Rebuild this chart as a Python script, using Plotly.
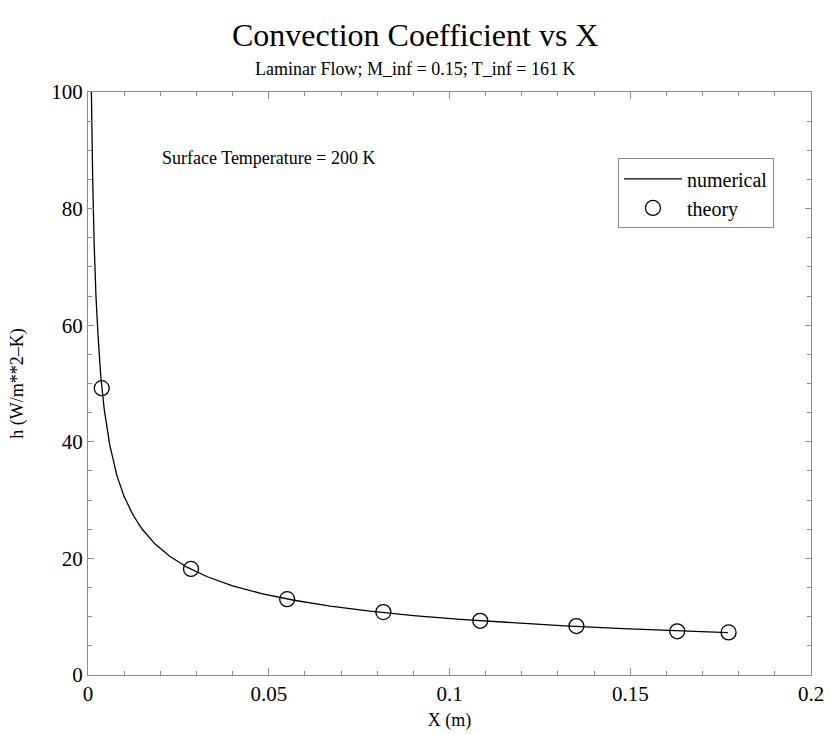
import plotly.graph_objects as go

# Numerical solution: convection coefficient along the plate
x_numerical = [0.0008, 0.001, 0.0013, 0.0017, 0.0022, 0.0028, 0.0035, 0.0045,
               0.006, 0.008, 0.01, 0.0125, 0.015, 0.0185, 0.0225, 0.0275,
               0.033, 0.04, 0.048, 0.057, 0.067, 0.078, 0.09, 0.103, 0.117,
               0.132, 0.148, 0.163, 0.177]
h_numerical = [106.0, 96.5, 85.0, 74.0, 65.0, 58.0, 51.5, 45.5,
               39.5, 34.2, 30.6, 27.4, 25.0, 22.5, 20.4, 18.45,
               16.85, 15.3, 13.97, 12.82, 11.82, 10.96, 10.2, 9.53, 8.95,
               8.42, 7.95, 7.58, 7.27]

# Laminar flat-plate theory
x_theory = [0.0038, 0.0285, 0.0551, 0.0817, 0.1085, 0.1351, 0.163, 0.1772]
h_theory = [49.2, 18.2, 13.0, 10.8, 9.3, 8.4, 7.5, 7.3]

title_text = "Convection Coefficient vs X"
subtitle_text = "Laminar Flow; M_inf = 0.15; T_inf = 161 K"
note_text = "Surface Temperature = 200 K"

FONT = "Liberation Serif, Times New Roman, serif"
AXIS_GREY = "#8c8c8c"

fig = go.Figure()
fig.add_trace(go.Scatter(
    x=x_numerical, y=h_numerical, mode="lines", name="numerical",
    line=dict(color="black", width=1.3),
))
fig.add_trace(go.Scatter(
    x=x_theory, y=h_theory, mode="markers", name="theory",
    marker=dict(symbol="circle-open", size=15, color="black",
                line=dict(color="black", width=1.3)),
))

axis_common = dict(
    showline=True, linecolor=AXIS_GREY, linewidth=1.3, mirror="ticks",
    ticks="inside", tickcolor=AXIS_GREY, tickwidth=1,
    showgrid=False, zeroline=False, automargin=False,
    tickfont=dict(family=FONT, size=21, color="black"),
)

fig.update_xaxes(
    range=[0, 0.2], tickvals=[0, 0.05, 0.1, 0.15, 0.2],
    ticktext=["0", "0.05", "0.1", "0.15", "0.2"], ticklen=7,
    minor=dict(dtick=0.01, ticks="inside", ticklen=4, tickcolor=AXIS_GREY),
    title=dict(text="X (m)", font=dict(family=FONT, size=18, color="black"),
               standoff=8),
    **axis_common,
)
fig.update_yaxes(
    range=[0, 100], dtick=20, ticklen=6,
    minor=dict(dtick=5, ticks="inside", ticklen=4, tickcolor=AXIS_GREY),
    title=dict(text="h (W/m**2\u2013K)", font=dict(family=FONT, size=18, color="black"),
               standoff=22),
    **axis_common,
)

fig.add_annotation(x=0.452, y=1.097, xref="paper", yref="paper",
                   yanchor="middle", text=title_text, showarrow=False,
                   font=dict(family=FONT, size=32, color="black"))
fig.add_annotation(x=0.452, y=1.039, xref="paper", yref="paper",
                   yanchor="middle", text=subtitle_text, showarrow=False,
                   font=dict(family=FONT, size=18, color="black"))
fig.add_annotation(x=0.0199, y=88.6, xref="x", yref="y", xanchor="left",
                   yanchor="middle", text=note_text, showarrow=False,
                   font=dict(family=FONT, size=18, color="black"))

fig.update_layout(
    width=830, height=734,
    margin=dict(l=88, r=19, t=92, b=59),
    paper_bgcolor="white", plot_bgcolor="white",
    font=dict(family=FONT, color="black"),
    legend=dict(x=0.733, y=0.886, xanchor="left", yanchor="top",
                bordercolor=AXIS_GREY, borderwidth=1, bgcolor="white",
                itemwidth=58, tracegroupgap=0,
                font=dict(family=FONT, size=20, color="black")),
)

fig.write_html("out.html")
